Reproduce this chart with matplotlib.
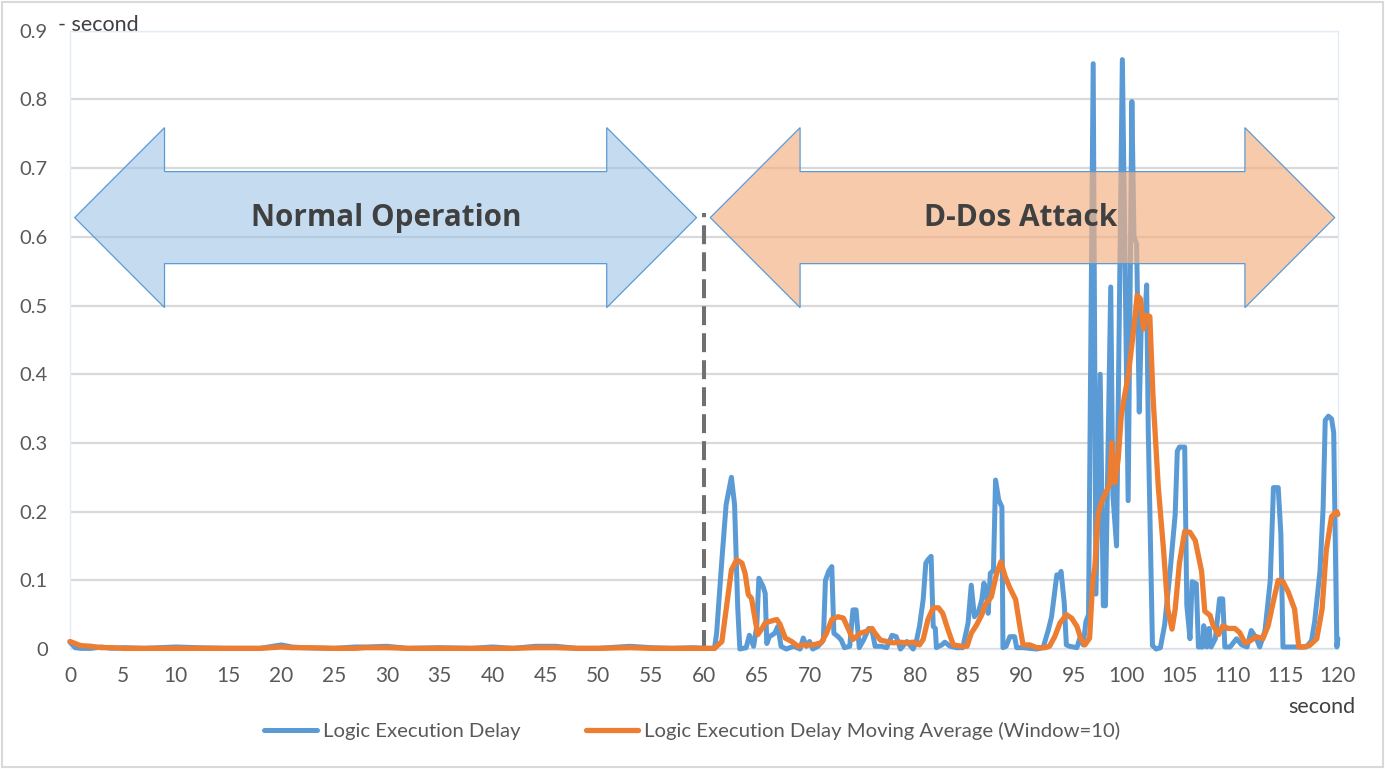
import matplotlib
matplotlib.use("Agg")
import matplotlib.pyplot as plt
from matplotlib.patches import Polygon, Rectangle

# ---- data (seconds, delay in seconds) ----
# normal operation, 0-60 s
normal_t = [0, 0.5, 1, 2, 3, 4, 5, 7, 10, 12, 15, 18, 20, 21, 22, 25, 27, 28, 30,
            32, 35, 38, 40, 42, 44, 46, 48, 50, 53, 55, 57, 59]
normal_delay = [0.010, 0.002, 0.001, 0.001, 0.003, 0.001, 0.002, 0.001, 0.003, 0.002,
                0.001, 0.001, 0.006, 0.003, 0.002, 0.001, 0.003, 0.003, 0.004,
                0.001, 0.002, 0.001, 0.003, 0.001, 0.004, 0.004, 0.001, 0.001,
                0.004, 0.002, 0.001, 0.002]
normal_avg = [0.011, 0.008, 0.005, 0.004, 0.002, 0.002, 0.001, 0.001, 0.001, 0.001,
              0.001, 0.001, 0.003, 0.002, 0.002, 0.001, 0.001, 0.002, 0.002,
              0.001, 0.001, 0.001, 0.001, 0.001, 0.002, 0.002, 0.001, 0.001,
              0.002, 0.001, 0.001, 0.001]

# attack period, 60-120 s
attack_t = [60.0, 61.0, 61.2, 61.7, 62.1, 62.6, 62.9, 63.2, 63.4, 64.0, 64.3, 64.7,
            65.0, 65.2, 65.6, 65.8, 65.95, 66.2, 66.7, 67.0, 67.3, 67.8, 68.5, 69.1,
            69.4, 69.7, 70.0, 70.3, 70.8, 71.3, 71.5, 71.8, 72.1, 72.3, 72.7, 73.0,
            73.3, 73.8, 74.1, 74.4, 74.7, 75.1, 75.6, 75.9, 76.2, 76.8, 77.3, 77.8,
            78.2, 78.6, 79.2, 79.8, 80.1, 80.4, 80.75, 81.0, 81.2, 81.5, 81.7, 81.9,
            82.0, 82.5, 82.8, 83.3, 83.9, 84.5, 85.0, 85.3, 85.6, 86.0, 86.3, 86.5,
            86.75, 86.9, 87.1, 87.4, 87.6, 87.9, 88.2, 88.3, 88.6, 88.95, 89.4, 89.6,
            90.2, 91.5, 92.1, 92.6, 92.9, 93.4, 93.6, 93.8, 94.1, 94.3, 94.6, 95.3,
            95.6, 95.9, 96.15, 96.4, 96.84, 97.1, 97.5, 97.8, 98.0, 98.5, 98.7, 99.05,
            99.6, 100.15, 100.5, 100.7, 100.95, 101.2, 101.4, 101.7, 101.9, 102.05,
            102.45, 102.8, 103.2, 103.6, 104.1, 104.6, 104.8, 105.0, 105.5, 105.7,
            106.0, 106.2, 106.6, 106.8, 107.2, 107.3, 107.6, 107.8, 108.0, 108.4,
            108.8, 109.1, 109.3, 109.8, 110.4, 110.9, 111.4, 111.8, 112.3, 112.6,
            113.1, 113.6, 113.9, 114.35, 114.6, 114.8, 115.3, 116.1, 117.0, 117.5,
            117.8, 118.3, 118.6, 118.8, 119.1, 119.4, 119.6, 119.9, 120.0]
attack_delay = [0.001, 0.001, 0.023, 0.13, 0.21, 0.25, 0.21, 0.06, 0.0, 0.002, 0.02, 0.004,
                0.033, 0.103, 0.091, 0.081, 0.008, 0.018, 0.023, 0.033, 0.004, 0.0, 0.004, 0.0,
                0.016, 0.004, 0.011, 0.0, 0.004, 0.013, 0.10, 0.113, 0.12, 0.023, 0.018, 0.013,
                0.002, 0.004, 0.057, 0.057, 0.002, 0.013, 0.030, 0.028, 0.004, 0.004, 0.002, 0.02,
                0.018, 0.0, 0.011, 0.0, 0.011, 0.033, 0.072, 0.125, 0.13, 0.135, 0.033, 0.03,
                0.002, 0.006, 0.01, 0.004, 0.002, 0.002, 0.038, 0.093, 0.047, 0.055, 0.072, 0.096,
                0.08, 0.052, 0.11, 0.115, 0.246, 0.217, 0.207, 0.002, 0.004, 0.018, 0.018, 0.002,
                0.002, 0.0, 0.002, 0.028, 0.047, 0.108, 0.105, 0.113, 0.067, 0.006, 0.004, 0.002,
                0.017, 0.006, 0.04, 0.05, 0.852, 0.08, 0.40, 0.063, 0.063, 0.527, 0.225, 0.15,
                0.858, 0.216, 0.797, 0.60, 0.59, 0.345, 0.48, 0.47, 0.53, 0.32,
                0.005, 0.0, 0.002, 0.035, 0.11, 0.196, 0.288, 0.294, 0.294, 0.064,
                0.015, 0.098, 0.095, 0.003, 0.003, 0.034, 0.003, 0.03, 0.003, 0.015,
                0.073, 0.073, 0.003, 0.003, 0.015, 0.006, 0.003, 0.027, 0.015, 0.003,
                0.027, 0.10, 0.235, 0.235, 0.168, 0.003, 0.003, 0.003, 0.003, 0.012,
                0.04, 0.113, 0.205, 0.333, 0.339, 0.335, 0.315, 0.003, 0.015]

avg_t = [60.0, 61.0, 61.7, 62.1, 62.6, 63.1, 63.6, 63.9, 64.2, 64.5, 64.8, 65.1, 65.5,
         65.8, 66.2, 66.9, 67.2, 67.7, 68.3, 68.9, 69.4, 70.3, 71.1, 71.6, 72.1, 72.7,
         73.2, 73.7, 74.1, 74.8, 75.4, 75.9, 76.2, 76.7, 77.3, 77.9, 78.55, 79.2, 79.8,
         80.4, 80.75, 81.2, 81.7, 82.2, 82.6, 83.1, 83.6, 84.4, 84.9, 85.3, 85.8, 86.3,
         86.6, 87.2, 87.7, 88.1, 88.5, 88.95, 89.5, 89.9, 90.2, 90.85, 91.5, 92.3, 92.7,
         93.2, 93.7, 94.3, 94.8, 95.3, 95.7, 96.05, 96.5, 96.8, 97.0, 97.3, 97.6, 98.1,
         98.4, 98.6, 98.9, 99.2, 99.5, 99.8, 100.15, 100.5, 100.8, 101.0, 101.3, 101.6,
         101.8, 102.2, 102.5, 103.0, 103.5, 103.9, 104.3, 104.6, 105.0, 105.5, 106.0,
         106.5, 107.1, 107.4, 107.9, 108.2, 108.7, 109.1, 109.6, 110.25, 110.7, 111.2,
         111.7, 112.3, 112.9, 113.4, 113.9, 114.35, 114.8, 115.3, 115.9, 116.3, 116.7,
         117.3, 118.0, 118.5, 118.9, 119.4, 119.9, 120.0]
avg_delay = [0.001, 0.001, 0.011, 0.057, 0.115, 0.13, 0.125, 0.11, 0.079, 0.074, 0.047, 0.021, 0.030,
             0.038, 0.040, 0.043, 0.036, 0.016, 0.011, 0.004, 0.006, 0.006, 0.009, 0.023, 0.043, 0.047,
             0.045, 0.028, 0.014, 0.023, 0.026, 0.030, 0.023, 0.013, 0.011, 0.009, 0.010, 0.009, 0.010,
             0.006, 0.014, 0.043, 0.060, 0.060, 0.052, 0.028, 0.006, 0.004, 0.004, 0.023, 0.035, 0.050,
             0.064, 0.076, 0.110, 0.127, 0.106, 0.089, 0.072, 0.033, 0.006, 0.006, 0.002, 0.002, 0.004,
             0.018, 0.038, 0.050, 0.045, 0.033, 0.014, 0.006, 0.016, 0.10, 0.12, 0.196, 0.213, 0.23,
             0.24, 0.30, 0.242, 0.276, 0.34, 0.368, 0.397, 0.443, 0.484, 0.515, 0.51, 0.466,
             0.486, 0.484, 0.368, 0.236, 0.144, 0.058, 0.029, 0.058, 0.125, 0.171, 0.170,
             0.158, 0.113, 0.055, 0.049, 0.034, 0.021, 0.034, 0.030, 0.030, 0.024, 0.009,
             0.012, 0.018, 0.015, 0.034, 0.070, 0.100, 0.098, 0.083, 0.058, 0.003, 0.003,
             0.005, 0.015, 0.058, 0.144, 0.193, 0.200, 0.196]

t = normal_t + attack_t
delay = normal_delay + attack_delay
t_avg = normal_t + avg_t
delay_avg = normal_avg + avg_delay

x_ticks = list(range(0, 121, 5))
y_ticks = [0, 0.1, 0.2, 0.3, 0.4, 0.5, 0.6, 0.7, 0.8, 0.9]
y_tick_labels = ["0", "0.1", "0.2", "0.3", "0.4", "0.5", "0.6", "0.7", "0.8", "0.9"]

BLUE = "#5b9bd5"
ORANGE = "#ed7d31"
GREY = "#595959"

plt.rcParams['font.family'] = ['Lato', 'DejaVu Sans']

fig = plt.figure(figsize=(13.85, 7.69), dpi=100)
ax = fig.add_axes([0.0505, 0.156, 0.9155, 0.804])

ax.plot(t, delay, color=BLUE, lw=3.6, solid_joinstyle='round', solid_capstyle='round',
        zorder=3, clip_on=False, label="Logic Execution Delay")
ax.plot(t_avg, delay_avg, color=ORANGE, lw=3.8, solid_joinstyle='round', solid_capstyle='round',
        zorder=4, clip_on=False, label="Logic Execution Delay Moving Average (Window=10)")

ax.set_xlim(0, 120)
ax.set_ylim(0, 0.9)
ax.set_xticks(x_ticks)
ax.set_yticks(y_ticks)
ax.set_yticklabels(y_tick_labels)
ax.tick_params(axis='both', length=0, labelcolor=GREY)
ax.tick_params(axis='y', pad=16, labelsize=14.5)
ax.tick_params(axis='x', pad=12, labelsize=15)
ax.yaxis.grid(True, color="#d9d9d9", lw=1.6)
ax.set_axisbelow(True)
for s in ax.spines.values():
    s.set_color("#e3ecf6")
    s.set_linewidth(1.0)

# separator between normal and attack period
ax.plot([60, 60], [0, 0.635], color="#707070", lw=2.9, ls=(0, (4.7, 2.0)), zorder=2)

# double arrows
def double_arrow(x0, x1, head, yc, shaft_half, head_half, face):
    pts = [(x0, yc), (x0 + head, yc + head_half), (x0 + head, yc + shaft_half),
           (x1 - head, yc + shaft_half), (x1 - head, yc + head_half), (x1, yc),
           (x1 - head, yc - head_half), (x1 - head, yc - shaft_half),
           (x0 + head, yc - shaft_half), (x0 + head, yc - head_half)]
    p = Polygon(pts, closed=True, facecolor=face, edgecolor=BLUE, lw=0.9, zorder=6)
    ax.add_patch(p)

double_arrow(0.45, 59.3, 8.5, 0.628, 0.067, 0.131, (0.616, 0.765, 0.902, 0.6))
double_arrow(60.6, 119.7, 8.5, 0.628, 0.067, 0.131, (0.957, 0.694, 0.514, 0.68))

ax.text(29.9, 0.627, "Normal Operation", ha='center', va='center', fontsize=21.3,
        fontweight='bold', color="#404040", family=['Open Sans', 'DejaVu Sans'], zorder=7)
ax.text(90.0, 0.627, "D-Dos Attack", ha='center', va='center', fontsize=21.5,
        fontweight='bold', color="#404040", family=['Open Sans', 'DejaVu Sans'], zorder=7)

# axis unit labels
fig.text(58 / 1385, 1 - 25 / 769, "- second", ha='left', va='center', fontsize=15.5, color="#404040")
fig.text(1322 / 1385, 1 - 707 / 769, "second", ha='center', va='center', fontsize=15.5, color="#404040")

fig.legend(loc='center', bbox_to_anchor=(0.5, 1 - 731 / 769), ncol=2, frameon=False,
           fontsize=14.6, handlelength=2.6, handletextpad=0.3, columnspacing=3.2,
           labelcolor=GREY)

# chart border
fig.add_artist(Rectangle((0.0015, 0.002), 0.997, 0.996, transform=fig.transFigure,
                         fill=False, edgecolor="#d9d9d9", lw=1.5))

fig.savefig("out.png", dpi=100)
